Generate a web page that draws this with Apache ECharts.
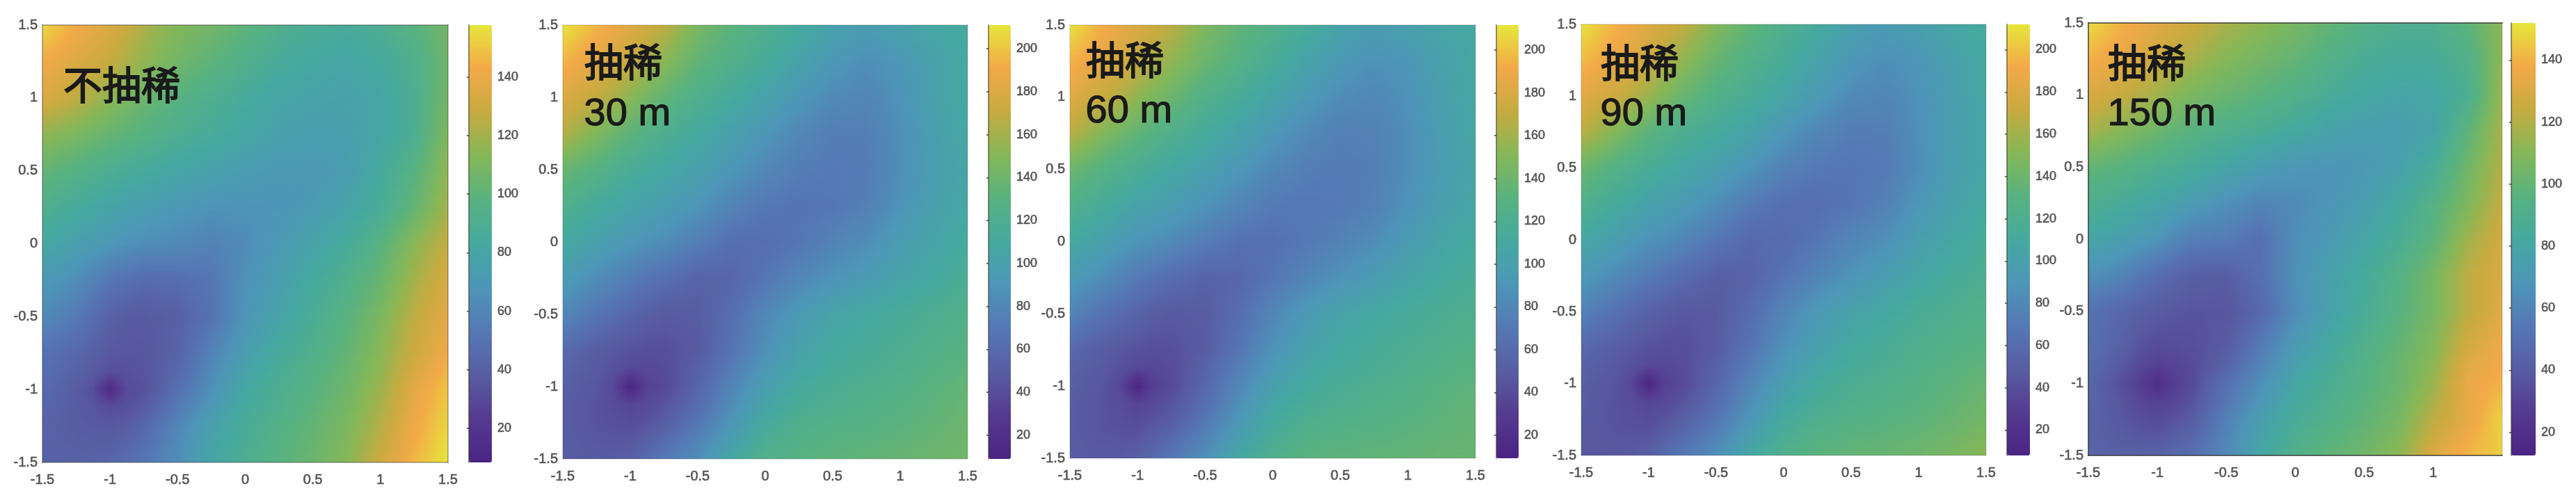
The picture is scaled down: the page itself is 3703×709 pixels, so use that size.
<!DOCTYPE html>
<html><head><meta charset="utf-8">
<style>html,body{margin:0;padding:0;background:#fff}#c{width:3703px;height:709px}</style>
<script src="https://cdn.jsdelivr.net/npm/echarts@6/dist/echarts.min.js"></script>
</head><body><div id="c"></div>
<script>
const xGrid=[-1.5,-1.25,-1.125,-1,-0.875,-0.75,-0.5,-0.25,0,0.25,0.5,0.75,1,1.25,1.5];
const yGrid=[1.5,1.25,1,0.75,0.5,0.25,0,-0.25,-0.5,-0.75,-0.875,-1,-1.125,-1.25,-1.5];
const colormap=['#4a2483','#553a90','#585da2','#5578b5','#4d96b8','#45a9a0','#58b280','#84b758','#c6ab40','#f3a948','#e6e63b'];
const noDecimation=[
[155,142,138,135,129,122,112,107,100,93,88,86,90,98,108],
[143,135,132,128,122,116,107,100,93,86,82,80,84,92,106],
[135,126,121,115,110,105,97,91,85,80,78,77,80,90,108],
[116,110,106,103,100,97,91,86,81,76,74,75,80,90,112],
[102,96,93,90,87,85,80,76,73,70,70,73,84,97,116],
[92,85,82,79,76,74,70,67,67,68,72,78,87,102,120],
[82,75,72,69,66,64,62,58,63,71,78,85,98,114,128],
[71,64,58,52,49,46,47,52,66,74,84,93,104,120,134],
[62,54,47,41,38,37,40,50,68,78,88,98,110,126,138],
[50,44,40,36,35,35,42,58,74,85,93,102,114,130,142],
[48,41,37,33,33,35,44,62,78,88,96,104,116,133,146],
[46,38,32,13,30,33,48,65,82,90,98,106,119,137,150],
[44,38,35,32,33,37,54,70,84,92,100,108,121,139,152],
[42,38,37,36,38,44,60,76,87,95,102,110,124,141,154],
[42,41,42,44,47,52,64,80,90,98,105,113,130,146,158]];
const decimated30=[
[211,195,188,182,175,168,145,132,122,112,102,97,103,108,112],
[195,182,177,172,162,152,135,124,114,102,92,85,91,101,110],
[180,170,162,152,143,135,122,112,102,91,82,78,88,101,110],
[165,148,140,133,126,120,110,100,90,80,73,74,85,99,108],
[138,128,122,116,112,108,100,90,80,73,70,72,84,98,106],
[124,112,108,104,101,97,89,78,69,66,68,75,88,100,108],
[110,100,95,91,87,84,74,63,62,68,77,84,96,104,112],
[96,84,78,73,67,63,54,56,68,79,88,95,103,110,118],
[80,67,62,56,51,48,49,62,80,94,104,109,114,120,125],
[60,50,46,43,41,41,48,66,86,102,110,115,120,125,130],
[56,47,43,38,37,39,52,72,92,106,113,118,122,128,133],
[52,45,37,11,33,37,56,78,98,112,118,122,126,131,136],
[50,44,40,36,38,44,60,84,104,116,121,125,128,133,138],
[50,44,42,40,44,50,68,90,112,122,126,128,131,135,140],
[50,48,49,52,60,70,85,108,124,130,133,135,137,140,142]];
const decimated60=[
[211,192,186,180,174,168,148,135,125,115,104,97,102,106,110],
[195,183,178,172,163,155,140,128,116,104,94,87,91,101,109],
[182,172,164,155,147,140,125,115,104,93,84,80,88,100,108],
[168,150,142,135,129,123,113,103,92,82,75,76,85,98,107],
[140,128,123,118,113,109,100,91,81,74,72,74,85,97,105],
[125,114,109,104,101,97,88,79,71,69,71,76,88,99,107],
[110,100,94,89,86,82,73,65,64,70,77,84,96,105,112],
[95,84,78,71,66,62,55,57,69,79,88,96,104,111,117],
[78,65,60,55,50,48,49,62,80,94,104,109,114,119,122],
[58,50,46,43,41,42,50,68,88,102,110,115,120,124,128],
[55,47,43,38,37,40,54,74,94,106,113,118,122,127,131],
[52,45,37,11,33,38,58,80,100,112,118,122,126,130,134],
[50,44,40,36,38,45,62,86,106,116,121,125,128,132,136],
[50,44,42,40,45,50,70,92,112,122,126,128,131,134,137],
[50,48,49,52,60,70,86,108,124,132,134,135,136,138,138]];
const decimated90=[
[211,195,189,182,176,170,150,135,122,112,101,94,100,107,112],
[198,186,181,175,165,155,138,125,115,102,91,85,90,100,110],
[184,174,166,158,148,138,125,116,105,93,82,78,87,98,108],
[168,150,141,132,126,120,112,103,90,79,72,73,85,98,107],
[140,127,121,116,111,107,99,88,76,69,67,70,84,98,106],
[124,112,107,102,98,94,84,71,63,62,67,75,90,101,110],
[108,98,92,87,84,79,68,58,59,68,78,85,98,107,115],
[92,82,76,71,65,60,51,53,66,78,88,97,106,114,120],
[76,64,58,53,49,46,47,60,78,92,102,109,116,121,126],
[58,50,46,42,40,40,48,66,86,100,110,116,122,127,130],
[54,46,42,37,37,39,52,72,92,105,114,119,125,130,134],
[50,44,36,11,32,37,56,78,98,112,119,123,128,133,138],
[49,43,39,35,37,43,60,84,104,116,122,126,130,135,141],
[48,43,41,39,44,50,68,90,112,122,127,130,133,138,144],
[46,46,47,50,60,70,85,108,124,132,136,138,141,146,152]];
const decimated150=[
[150,140,136,132,129,126,118,112,106,100,94,90,90,98,112],
[140,133,130,127,122,118,110,105,100,93,87,84,85,92,112],
[130,124,120,116,111,107,102,97,92,86,81,79,80,88,115],
[118,110,106,103,99,96,91,87,82,77,74,73,78,98,118],
[100,96,93,90,88,85,79,73,69,68,70,76,86,104,120],
[90,85,82,79,76,72,66,60,63,68,74,82,94,108,124],
[80,74,71,68,62,57,56,50,65,71,79,87,98,116,128],
[66,60,54,49,45,42,41,50,66,76,84,94,106,122,130],
[52,45,42,40,38,37,37,46,64,76,86,96,106,122,132],
[50,42,36,33,34,35,40,56,72,82,92,100,110,128,137],
[48,38,32,29,30,33,44,60,76,85,94,102,112,132,138],
[46,34,28,18,28,33,50,65,80,88,95,102,115,135,140],
[45,37,31,29,31,36,53,69,83,90,97,104,118,134,144],
[44,38,35,33,36,40,58,74,86,93,99,106,122,134,148],
[44,42,42,43,47,50,62,80,92,99,104,112,130,141,146]];
const ticks150=[20,40,60,80,100,120,140];
const ticks200=[20,40,60,80,100,120,140,160,180,200];
const panelLabels=[['不抽稀'],['抽稀','30 m'],['抽稀','60 m'],['抽稀','90 m'],['抽稀','150 m']];

const panels=[
 {rows:noDecimation,min:8.4,max:157.7,ticks:ticks150,l:61,r:644,t:36,b:665,cl:674,cr:707,edge:'rgba(50,50,50,.35)',lx:90,ly:[131]},
 {rows:decimated30,min:9,max:211,ticks:ticks200,l:809,r:1391,t:36,b:660,cl:1421,cr:1453,edge:'rgba(50,50,50,.12)',lx:839,ly:[98,168]},
 {rows:decimated60,min:9.3,max:211.7,ticks:ticks200,l:1538,r:2121,t:36,b:659,cl:2151,cr:2183,edge:'rgba(50,50,50,.12)',lx:1560,ly:[95,164]},
 {rows:decimated90,min:8,max:212,ticks:ticks200,l:2273,r:2855,t:35,b:655,cl:2885,cr:2918,edge:'rgba(50,50,50,.12)',lx:2300,ly:[99,168]},
 {rows:decimated150,min:12.5,max:152,ticks:ticks150,l:3002,r:3597,t:33,b:655,cl:3610,cr:3645,edge:'rgba(50,50,50,.7)',lx:3029,ly:[99,168]}
];
function hexRgb(h){return [1,3,5].map(k=>parseInt(h.substr(k,2),16));}
const mapRgb=colormap.map(hexRgb);
function colorOf(v,p){
  let t=Math.min(1,Math.max(0,(v-p.min)/(p.max-p.min)))*(mapRgb.length-1);
  const k=Math.min(mapRgb.length-2,Math.floor(t)),f=t-k;
  const c=mapRgb[k].map((a,n)=>Math.round(a+(mapRgb[k+1][n]-a)*f));
  return 'rgb('+c.join(',')+')';
}
function toPoints(rows){const out=[];rows.forEach((r,j)=>r.forEach((v,i)=>out.push([xGrid[i],yGrid[j],v])));return out;}
// interpolated shading (like MATLAB "shading interp") of each read grid cell
function shaded(p){
  const N=12,S=4;
  return function(params,api){
    const idx=params.dataIndex,n=xGrid.length,i=idx%n,j=Math.floor(idx/n);
    if(i===n-1||j===n-1) return {type:'group',children:[]};
    const a=p.rows[j][i],b=p.rows[j][i+1],c=p.rows[j+1][i],d=p.rows[j+1][i+1];
    const p0=api.coord([xGrid[i],yGrid[j]]),p1=api.coord([xGrid[i+1],yGrid[j+1]]);
    const x0=Math.round(p0[0]),x1=Math.round(p1[0]);
    const kids=[];
    for(let s=0;s<N;s++){
      const y0=Math.round(p0[1]+(p1[1]-p0[1])*s/N),y1=Math.round(p0[1]+(p1[1]-p0[1])*(s+1)/N);
      if(y1<=y0) continue;
      const t=(s+.5)/N,vl=a+(c-a)*t,vr=b+(d-b)*t,stops=[];
      for(let k=0;k<=S;k++) stops.push({offset:k/S,color:colorOf(vl+(vr-vl)*k/S,p)});
      kids.push({type:'rect',shape:{x:x0,y:y0,width:x1-x0,height:y1-y0},silent:true,
        style:{fill:{type:'linear',x:0,y:0,x2:1,y2:0,colorStops:stops}}});
    }
    return {type:'group',children:kids};
  };
}
const FONT='"Liberation Sans",Arial,sans-serif',CJK='"Noto Sans CJK SC","Liberation Sans",sans-serif',GRAY='#555555';
const grid=[],xAxis=[],yAxis=[],series=[],visualMap=[],graphic=[];
const tickText=(fs,m)=>({color:GRAY,fontFamily:FONT,fontSize:fs,margin:m,textBorderColor:GRAY,textBorderWidth:.6});
panels.forEach((p,i)=>{
  const W=p.r-p.l,H=p.b-p.t;
  const g=grid.length;
  grid.push({left:p.l,top:p.t,width:W,height:H,show:false});
  const lineS={show:true,onZero:false,lineStyle:{color:p.edge,width:2}};
  const xi=xAxis.length,yi=yAxis.length;
  xAxis.push({type:'value',gridIndex:g,min:-1.5,max:1.5,interval:.5,position:'bottom',z:5,splitLine:{show:false},
    axisLine:lineS,axisTick:{show:false},
    axisLabel:{...tickText(20,15),showMaxLabel:i!==4,hideOverlap:false}});
  yAxis.push({type:'value',gridIndex:g,min:-1.5,max:1.5,interval:.5,position:'left',z:5,splitLine:{show:false},
    axisLine:lineS,axisTick:{show:false},
    axisLabel:tickText(20,7)});
  xAxis.push({type:'value',gridIndex:g,min:-1.5,max:1.5,interval:.5,position:'top',z:5,splitLine:{show:false},axisLine:lineS,axisTick:{show:false},axisLabel:{show:false}});
  yAxis.push({type:'value',gridIndex:g,min:-1.5,max:1.5,interval:.5,position:'right',z:5,splitLine:{show:false},axisLine:{...lineS,lineStyle:{color:i===4?'rgba(50,50,50,.12)':p.edge,width:2}},axisTick:{show:false},axisLabel:{show:false}});
  series.push({type:'custom',name:panelLabels[i].join(' '),coordinateSystem:'cartesian2d',xAxisIndex:xi,yAxisIndex:yi,
    data:toPoints(p.rows),encode:{x:0,y:1},renderItem:shaded(p),silent:true,animation:false,clip:false});
  visualMap.push({type:'continuous',seriesIndex:i,dimension:2,min:p.min,max:p.max,left:p.cl,top:p.t,itemWidth:p.cr-p.cl,itemHeight:H,padding:0,
    calculable:false,realtime:false,hoverLink:false,inRange:{color:colormap},text:null,orient:'vertical',showLabel:false,textStyle:{color:'transparent'}});
});
panels.forEach((p,i)=>{
  const g=grid.length;
  grid.push({left:p.cl,top:p.t,width:p.cr-p.cl,height:p.b-p.t,show:false});
  xAxis.push({type:'value',gridIndex:g,show:false,min:0,max:1});
  yAxis.push({type:'value',gridIndex:g,min:p.min,max:p.max,position:'right',z:6,splitLine:{show:false},
    axisLine:{show:true,lineStyle:{color:'rgba(60,60,40,.55)',width:2}},
    axisTick:{show:true,inside:true,length:3,customValues:p.ticks,lineStyle:{color:'#444',width:1.5}},
    axisLabel:{...tickText(18,8),customValues:p.ticks}});
  p.ly.forEach((y,k)=>{
    const s=panelLabels[i][k];
    graphic.push({type:'text',z:100,left:p.lx,top:y-(k===1?32:38),style:{text:s,fill:'#1a1a1a',fontSize:56,fontFamily:k===1?FONT:CJK,fontWeight:'normal',stroke:'#1a1a1a',lineWidth:k===1?1.2:1.8}});
  });
});
const chart=echarts.init(document.getElementById('c'),null,{renderer:'canvas',width:3703,height:709});
chart.setOption({animation:false,backgroundColor:'#fff',grid,xAxis,yAxis,series,visualMap,graphic,tooltip:{show:false}});
</script></body></html>
